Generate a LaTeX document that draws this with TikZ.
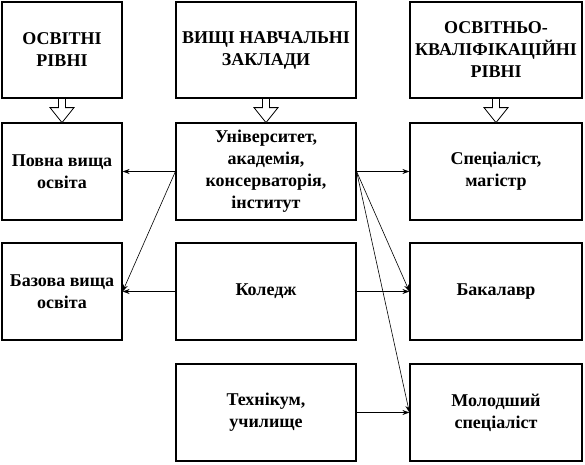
\documentclass[tikz,border=0pt]{standalone}
\usepackage{fontspec}
\setmainfont{Liberation Serif}
\usetikzlibrary{arrows.meta}
\begin{document}
\begin{tikzpicture}[x=1pt,y=-1pt,
  box/.style={draw,line width=1.2pt,inner sep=0pt,align=center,
    font=\fontsize{18}{22}\selectfont\bfseries},
  conn/.style={line width=0.6pt,-{Stealth[length=7pt,width=5pt]}},
  hollow/.style={draw,line width=0.8pt,fill=white}]
\useasboundingbox (0,0) rectangle (585,464);
% headers
\node[box,minimum width=120pt,minimum height=96pt] (h1) at (62,50) {ОСВІТНІ\\РІВНІ};
\node[box,minimum width=180pt,minimum height=96pt] (h2) at (266,50) {ВИЩІ НАВЧАЛЬНІ\\ЗАКЛАДИ};
\node[box,minimum width=172pt,minimum height=96pt] (h3) at (496,50) {ОСВІТНЬО-\\КВАЛІФІКАЦІЙНІ\\РІВНІ};
% left column
\node[box,minimum width=120pt,minimum height=97pt] (povna) at (62,171.5) {Повна вища\\освіта};
\node[box,minimum width=120pt,minimum height=97pt] (bazova) at (62,291.5) {Базова вища\\освіта};
% middle column
\node[box,minimum width=180pt,minimum height=97pt] (univ) at (266,171.5) {Університет,\\академія,\\консерваторія,\\інститут};
\node[box,minimum width=180pt,minimum height=97pt] (koledzh) at (266,291.5) {Коледж};
\node[box,minimum width=180pt,minimum height=97pt] (tekh) at (266,412.5) {Технікум,\\училище};
% right column
\node[box,minimum width=172pt,minimum height=97pt] (spec) at (496,171.5) {Спеціаліст,\\магістр};
\node[box,minimum width=172pt,minimum height=97pt] (bak) at (496,291.5) {Бакалавр};
\node[box,minimum width=172pt,minimum height=97pt] (mol) at (496,412.5) {Молодший\\спеціаліст};
% hollow arrows
\foreach \h in {h1,h2,h3}{
  \draw[hollow,shift={(\h.south)}] (-3.5,0.5) -- (-3.5,9) -- (-12,9) -- (0,24) -- (12,9) -- (3.5,9) -- (3.5,0.5);
}
% connectors
\draw[conn] (univ.west) -- (povna.east);
\draw[conn] (univ.west) -- (bazova.east);
\draw[conn] (koledzh.west) -- (bazova.east);
\draw[conn] (univ.east) -- (spec.west);
\draw[conn] (univ.east) -- (bak.west);
\draw[conn] (univ.east) -- (mol.west);
\draw[conn] (koledzh.east) -- (bak.west);
\draw[conn] (tekh.east) -- (mol.west);
\end{tikzpicture}
\end{document}
